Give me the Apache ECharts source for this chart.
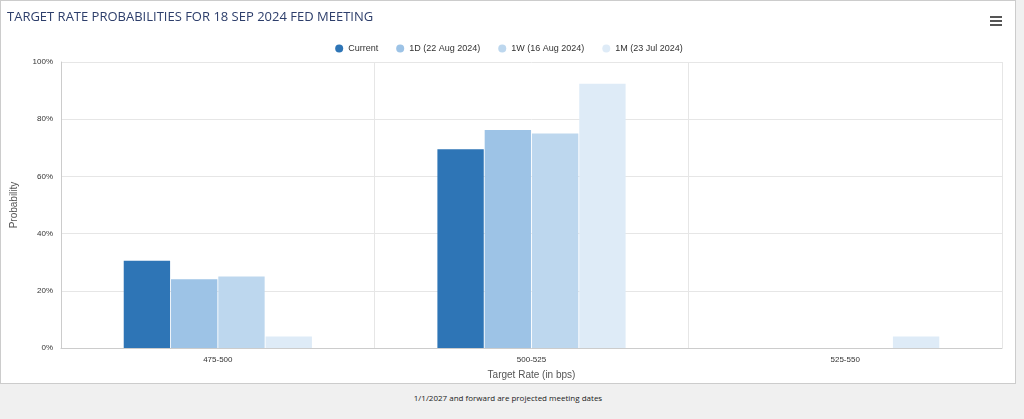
<!DOCTYPE html><html><head><meta charset="utf-8"><script src="https://cdn.jsdelivr.net/npm/echarts@6/dist/echarts.min.js"></script>
<style>body{margin:0;background:#f0f0f0;font-family:"Open Sans",sans-serif}
#wrap{position:absolute;left:0;top:0;width:1016px;height:384px;background:#fff;border:1px solid #ccc;box-sizing:border-box}
#c{width:1016px;height:384px}
#foot{position:absolute;left:0;top:392px;width:1016px;text-align:center;font-size:8px;color:#222}
#menu{position:absolute;left:990px;top:16px;width:12px}
#menu div{height:2px;background:#555;margin-bottom:2px}
#title{position:absolute;left:7px;top:7px;font-size:13px;color:#2d3e6b}
</style></head><body>
<div id="wrap"><div id="c"></div></div>
<div id="title">TARGET RATE PROBABILITIES FOR 18 SEP 2024 FED MEETING</div>
<div id="menu"><div></div><div></div><div></div></div>
<div id="foot">1/1/2027 and forward are projected meeting dates</div>
<script>
const categories=["475-500","500-525","525-550"];
const seriesNames=["Current","1D (22 Aug 2024)","1W (16 Aug 2024)","1M (23 Jul 2024)"];
const current=[30.5,69.5,0];
const d1=[24,76.2,0];
const w1=[25,75,0];
const m1=[4,92.4,4];
const colors=["#2e75b6","#9dc3e6","#bdd7ee","#deebf7"];
const vals=[current,d1,w1,m1];
const ch=echarts.init(document.getElementById('c'));
ch.setOption({
 animation:false,
 legend:{top:38,left:'center',itemWidth:8,itemHeight:8,icon:'circle',itemGap:18,textStyle:{fontSize:9,color:'#333'},data:seriesNames},
 grid:{left:60,right:15,top:61,bottom:37},
 xAxis:{type:'category',data:categories,name:'Target Rate (in bps)',nameLocation:'middle',nameGap:22,nameTextStyle:{fontSize:10,color:'#555'},
  axisLine:{lineStyle:{color:'#ccc'}},axisTick:{show:false},axisLabel:{fontSize:8,color:'#333'},
  splitLine:{show:true,lineStyle:{color:'#e6e6e6'}}},
 yAxis:{type:'value',min:0,max:100,interval:20,name:'Probability',nameLocation:'middle',nameGap:42,nameTextStyle:{fontSize:10,color:'#555'},
  axisLine:{show:true,lineStyle:{color:'#ccc'}},axisLabel:{fontSize:8,color:'#333',formatter:'{value}%'},splitLine:{lineStyle:{color:'#e6e6e6'}}},
 series:vals.map((v,i)=>({name:seriesNames[i],type:'bar',data:v,itemStyle:{color:colors[i]},barGap:'2%',barCategoryGap:'40%'}))
});
</script></body></html>
